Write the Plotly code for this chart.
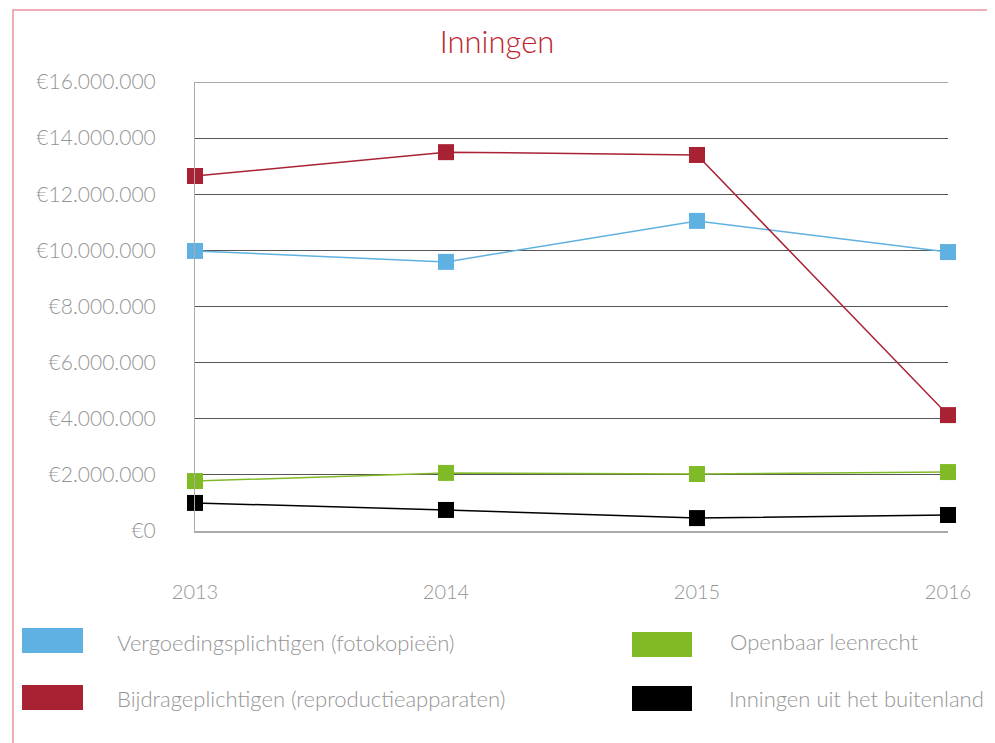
import plotly.graph_objects as go

years = [2013, 2014, 2015, 2016]
year_labels = ["2013", "2014", "2015", "2016"]
series_names = [
    "Vergoedingsplichtigen (fotokopieën)",
    "Bijdrageplichtigen (reproductieapparaten)",
    "Openbaar leenrecht",
    "Inningen uit het buitenland",
]
vergoeding = [9980000, 9590000, 11050000, 9940000]
bijdrage = [12650000, 13500000, 13400000, 4130000]
leenrecht = [1780000, 2070000, 2030000, 2100000]
buitenland = [1000000, 750000, 460000, 570000]
y_ticks = [0, 2000000, 4000000, 6000000, 8000000, 10000000, 12000000, 14000000, 16000000]
y_tick_labels = ["€0", "€2.000.000", "€4.000.000", "€6.000.000", "€8.000.000",
                 "€10.000.000", "€12.000.000", "€14.000.000", "€16.000.000"]

colors = ["#5fb1e2", "#a82234", "#80ba27", "#000000"]
values = [vergoeding, bijdrage, leenrecht, buitenland]

OFF = 8  # page body offset
W, H = 995 - OFF, 743 - OFF
L, R, T, B = 195, 948, 82, 531
FONT = "Lato"

def xp(px):
    return (px - L) / (R - L)

def yp(py):
    return (B - py) / (B - T)

fig = go.Figure()
for name, vals, col in zip(series_names, values, colors):
    fig.add_trace(go.Scatter(
        x=years, y=vals, name=name, mode="lines+markers",
        line=dict(color=col, width=1.5),
        marker=dict(symbol="square", size=16, color=col),
        cliponaxis=False, showlegend=False,
    ))

# Custom legend (swatches + labels) laid out as in the reference
legend_pos = [
    (22, 83, 628, 653, 115, 642),
    (22, 83, 685, 710, 115, 698),
    (632, 692, 632, 657, 728, 641),
    (632, 692, 686, 711, 727, 698),
]
shapes = []
annotations = []
for name, col, (x0, x1, y0, y1, tx, ty) in zip(series_names, colors, legend_pos):
    shapes.append(dict(type="rect", xref="paper", yref="paper",
                       x0=xp(x0), x1=xp(x1), y0=yp(y1), y1=yp(y0),
                       fillcolor=col, line=dict(width=0)))
    annotations.append(dict(xref="paper", yref="paper", x=xp(tx), y=yp(ty),
                            xanchor="left", yanchor="middle", showarrow=False,
                            text=name, font=dict(family=FONT, size=22, color="#959595", weight=300)))

# top gridline at the range edge
shapes.append(dict(type="line", xref="paper", yref="y", x0=0, x1=1,
                   y0=y_ticks[-1], y1=y_ticks[-1], line=dict(color="#555555", width=1), layer="below"))

# Outer pink border
shapes.append(dict(type="rect", xref="paper", yref="paper",
                   x0=xp(13), x1=xp(993), y0=yp(800), y1=yp(10),
                   line=dict(color="#e8949d", width=1.5), fillcolor="rgba(0,0,0,0)", layer="below"))

fig.update_layout(
    width=W, height=H,
    margin=dict(l=L - OFF, r=W - (R - OFF), t=T - OFF, b=H - (B - OFF)),
    paper_bgcolor="white", plot_bgcolor="white",
    title=dict(text="Inningen", x=(497 - OFF) / W, xanchor="center", xref="container",
               y=1 - (42 - OFF) / H, yanchor="middle", yref="container",
               font=dict(family=FONT, size=31, color="#c0222c", weight=300)),
    xaxis=dict(range=[2013, 2016], tickvals=years, ticktext=year_labels,
               showgrid=False, zeroline=False, showline=True, linecolor="#aaaaaa", linewidth=2,
               ticks="", ticklabelstandoff=42,
               tickfont=dict(family=FONT, size=20, color="#959595", weight=300)),
    yaxis=dict(range=[0, 16000000], tickvals=y_ticks, ticktext=y_tick_labels,
               showgrid=True, gridcolor="#555555", gridwidth=1, zeroline=False,
               showline=True, linecolor="#aaaaaa", linewidth=1,
               ticks="", ticklabelstandoff=34,
               tickfont=dict(family=FONT, size=21, color="#959595", weight=300)),
    shapes=shapes, annotations=annotations,
)

fig.write_html("out.html")
